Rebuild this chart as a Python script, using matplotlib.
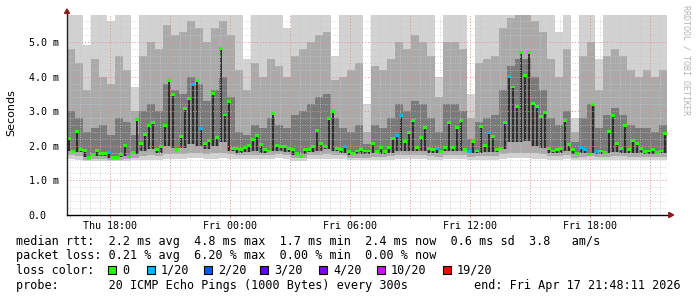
import numpy as np
import matplotlib
matplotlib.use("Agg")
import matplotlib.pyplot as plt
from matplotlib.patches import Rectangle, Polygon

# time axis in hours counted from Thu 00:00
t_start = 15.85
t_end = 45.85
med_step = 0.2      # one median column = 12 min
smoke_step = 0.4    # one smoke column = 24 min

# median rtt per column (ms)
median = [2.20, 1.83, 2.40, 1.90, 1.86, 1.66, 1.74, 1.86, 1.78, 1.78,
          1.80, 1.66, 1.66, 1.75, 2.02, 1.69, 1.80, 2.75, 2.07, 2.33,
          2.58, 2.68, 1.88, 1.98, 2.58, 3.88, 3.49, 1.88, 2.26, 3.07,
          3.36, 3.78, 3.88, 2.50, 2.07, 2.14, 3.52, 2.24, 4.81, 2.89,
          3.28, 1.93, 1.93, 1.88, 1.95, 2.02, 2.18, 2.31, 2.04, 1.88,
          1.85, 2.94, 2.02, 1.98, 1.98, 1.93, 1.88, 1.78, 1.69, 1.88,
          1.88, 1.98, 2.43, 2.07, 1.98, 2.78, 2.99, 1.91, 1.90, 1.98,
          1.83, 1.78, 1.85, 1.88, 1.85, 1.85, 2.07, 1.83, 1.95, 1.83,
          1.95, 2.20, 2.31, 2.87, 2.12, 2.39, 2.72, 1.95, 2.24, 2.54,
          1.93, 1.88, 1.93, 1.83, 1.95, 2.68, 1.95, 2.54, 2.72, 1.88,
          1.83, 2.12, 1.85, 2.56, 2.02, 2.39, 2.27, 1.88, 1.91, 2.68,
          4.00, 3.70, 3.13, 4.70, 4.02, 4.70, 3.23, 3.13, 2.85, 2.97,
          1.91, 1.85, 1.90, 1.93, 2.72, 2.04, 1.88, 1.78, 1.95, 1.88,
          1.74, 3.18, 1.83, 1.85, 1.81, 2.41, 2.87, 2.07, 1.93, 2.60,
          1.88, 2.14, 2.07, 1.93, 1.83, 1.85, 1.88, 1.81, 1.85, 2.36]

# columns that lost 1 of 20 pings (everything else 0)
loss_1_20 = [10, 31, 33, 69, 82, 83, 92, 100, 105, 110, 128, 129, 132]

# smoke: ping distribution per 24 min column (ms)
pmin = [1.62, 1.60, 1.55, 1.56, 1.56, 1.55, 1.55, 1.56, 1.58, 1.60,
        1.60, 1.60, 1.62, 1.62, 1.62, 1.65, 1.65, 1.62, 1.62, 1.65,
        1.62, 1.62, 1.62, 1.62, 1.62, 1.62, 1.64, 1.62, 1.56, 1.56,
        1.62, 1.62, 1.62, 1.62, 1.62, 1.58, 1.58, 1.58, 1.60, 1.60,
        1.60, 1.62, 1.62, 1.62, 1.62, 1.60, 1.60, 1.62, 1.62, 1.62,
        1.60, 1.60, 1.60, 1.60, 1.62, 1.65, 1.65, 1.65, 1.62, 1.62,
        1.60, 1.60, 1.62, 1.58, 1.60, 1.60, 1.60, 1.60, 1.60, 1.60,
        1.60, 1.60, 1.60, 1.60, 1.60]
p10 = [1.72, 1.70, 1.60, 1.62, 1.62, 1.60, 1.60, 1.62, 1.66, 1.70,
       1.72, 1.70, 1.75, 1.75, 1.75, 1.80, 1.80, 1.75, 1.78, 1.80,
       1.75, 1.72, 1.72, 1.74, 1.72, 1.74, 1.75, 1.72, 1.64, 1.65,
       1.72, 1.74, 1.75, 1.74, 1.72, 1.65, 1.66, 1.66, 1.68, 1.68,
       1.70, 1.72, 1.72, 1.72, 1.72, 1.70, 1.68, 1.72, 1.72, 1.72,
       1.68, 1.70, 1.70, 1.70, 1.75, 1.80, 1.80, 1.80, 1.78, 1.75,
       1.70, 1.70, 1.72, 1.66, 1.68, 1.70, 1.68, 1.68, 1.70, 1.70,
       1.68, 1.68, 1.68, 1.68, 1.68]
q1 = [1.85, 1.82, 1.68, 1.70, 1.70, 1.66, 1.68, 1.70, 1.75, 1.85,
      1.90, 1.80, 2.00, 1.95, 1.95, 2.05, 2.00, 1.90, 2.00, 2.10,
      1.85, 1.80, 1.82, 1.85, 1.80, 1.85, 1.85, 1.82, 1.72, 1.75,
      1.82, 1.85, 1.90, 1.85, 1.80, 1.72, 1.75, 1.75, 1.78, 1.76,
      1.80, 1.85, 1.85, 1.85, 1.85, 1.80, 1.78, 1.85, 1.85, 1.85,
      1.78, 1.80, 1.82, 1.82, 1.90, 2.10, 2.10, 2.15, 2.00, 1.95,
      1.80, 1.80, 1.85, 1.75, 1.78, 1.80, 1.76, 1.78, 1.82, 1.80,
      1.78, 1.78, 1.76, 1.76, 1.78]
q3 = [3.0, 2.8, 2.4, 2.5, 2.6, 2.3, 2.8, 2.7, 2.3, 3.0,
      3.2, 3.0, 3.8, 3.6, 3.5, 4.0, 3.8, 3.3, 3.6, 4.0,
      3.4, 2.4, 2.3, 2.6, 2.5, 2.8, 2.6, 2.5, 2.9, 3.0,
      3.2, 3.4, 3.5, 2.8, 2.5, 2.4, 2.6, 2.05, 2.6, 2.5,
      2.8, 3.2, 3.0, 3.3, 3.2, 2.8, 2.4, 3.2, 3.2, 3.0,
      2.2, 2.7, 2.8, 2.9, 3.6, 4.3, 4.5, 4.5, 4.0, 3.6,
      2.8, 2.6, 3.0, 2.1, 2.8, 3.2, 2.5, 2.9, 3.1, 2.9,
      2.6, 2.5, 2.5, 2.4, 2.6]
p90 = [4.8, 4.4, 3.6, 4.5, 4.0, 3.8, 4.6, 4.2, 3.0, 4.6,
       5.0, 4.8, 5.5, 5.2, 5.3, 5.6, 5.4, 5.0, 5.4, 5.6,
       5.2, 4.2, 3.6, 4.4, 4.0, 4.5, 4.3, 4.0, 4.6, 4.8,
       5.0, 5.2, 5.3, 3.9, 4.0, 4.2, 4.4, 2.4, 4.3, 4.2,
       4.5, 5.0, 4.8, 5.2, 5.0, 4.6, 3.4, 5.0, 5.0, 4.8,
       2.8, 4.4, 4.5, 4.6, 5.4, 5.7, 5.8, 5.8, 5.6, 5.3,
       4.5, 4.0, 4.8, 2.4, 4.6, 5.0, 3.6, 4.6, 4.8, 4.6,
       4.2, 4.0, 4.2, 4.0, 4.2]
pmax = [6.5, 6.5, 4.9, 6.5, 6.5, 5.6, 6.5, 6.5, 3.7, 6.0,
        6.5, 6.5, 6.5, 6.5, 6.5, 6.5, 6.5, 6.5, 6.5, 6.5,
        6.5, 6.5, 4.5, 6.5, 6.5, 6.5, 6.5, 5.4, 6.5, 6.5,
        6.5, 6.5, 6.5, 4.6, 6.5, 6.5, 6.5, 3.2, 6.5, 6.5,
        6.5, 6.5, 6.5, 6.5, 6.5, 6.5, 4.0, 6.5, 6.5, 6.5,
        3.5, 6.5, 6.5, 6.5, 6.5, 6.5, 6.5, 6.5, 6.5, 6.5,
        6.5, 5.3, 6.5, 2.8, 6.5, 6.5, 4.5, 6.5, 6.5, 6.5,
        6.5, 6.5, 6.5, 6.5, 6.5]

y_major = [0, 1, 2, 3, 4, 5]
x_label_hours = [18, 24, 30, 36, 42]
day_names = ["Thu", "Fri"]

loss_names = ["0", "1/20", "2/20", "3/20", "4/20", "10/20", "19/20"]
loss_colors = ["#26ff00", "#00b8ff", "#0059ff", "#5e00ff", "#7e00ff", "#dd00ff", "#ff0000"]

stats_rtt = "median rtt:  2.2 ms avg  4.8 ms max  1.7 ms min  2.4 ms now  0.6 ms sd  3.8   am/s"
stats_loss = "packet loss: 0.21 % avg  6.20 % max  0.00 % min  0.00 % now"
probe_text = "probe:       20 ICMP Echo Pings (1000 Bytes) every 300s"
end_text = "end: Fri Apr 17 21:48:11 2026"

W, H = 697, 297
MONO = "DejaVu Sans Mono"

fig = plt.figure(figsize=(W / 100, H / 100), dpi=100)
fig.patch.set_facecolor("white")
ax = fig.add_axes([67 / W, (H - 215) / H, 600 / W, 200 / H])
ax.set_facecolor("white")

# smoke
ts = t_start + smoke_step * np.arange(len(pmax))
for lo, hi, col in [(pmin, pmax, "#d2d2d2"), (p10, p90, "#aaaaaa"), (q1, q3, "#7a7a7a")]:
    lo = np.array(lo)
    hi = np.array(hi)
    ax.bar(ts, hi - lo, bottom=lo, width=smoke_step, align="edge", color=col,
           linewidth=0, antialiased=False, zorder=1)

tm = t_start + med_step * np.arange(len(median))
med = np.array(median)
q1_m = np.repeat(q1, 2)[:len(med)]
# thin dark core between lower quartile and median
ax.bar(tm + med_step * 0.25, np.clip(med - q1_m, 0, None), bottom=q1_m, width=med_step * 0.5,
       align="edge", color="#2e2e2e", linewidth=0, antialiased=False, zorder=1.5)

# grid (drawn over the smoke, like rrdtool)
dots = (0, (1, 2))
for k in range(1, 30):
    v = k * 0.2
    if k % 5 == 0:
        ax.axhline(v, color="#f08a8a", lw=0.7, ls=dots, zorder=3)
    else:
        ax.axhline(v, color="#c8c8c8", lw=0.6, ls=dots, zorder=3)
for k in range(int(t_start * 2) + 1, int(t_end * 2) + 1):
    h = k / 2
    if k % 6 == 0:
        ax.axvline(h, color="#f08a8a", lw=0.7, ls=dots, zorder=3)
    else:
        ax.axvline(h, color="#c8c8c8", lw=0.6, ls=dots, zorder=3)

# median dots coloured by loss
dot_cols = [loss_colors[1] if i in loss_1_20 else loss_colors[0] for i in range(len(med))]
ax.bar(tm, 0.085, bottom=med - 0.0425, width=med_step, align="edge", color=dot_cols,
       linewidth=0, antialiased=False, zorder=4)

ax.set_xlim(t_start, t_end)
ax.set_ylim(0, 5.78)

for s in ["top", "right", "left", "bottom"]:
    ax.spines[s].set_visible(False)
ax.plot([0, 0], [0, 1.01], transform=ax.transAxes, color="#202020", lw=1, clip_on=False, zorder=5)
ax.plot([0, 1.004], [0, 0], transform=ax.transAxes, color="#000000", lw=1, clip_on=False, zorder=5)
ax.add_patch(Polygon([[-0.0042, 1.008], [0.0042, 1.008], [0, 1.03]], closed=True,
                     transform=ax.transAxes, color="#8b1a1a", clip_on=False, zorder=6))
ax.add_patch(Polygon([[1.003, -0.013], [1.003, 0.013], [1.011, 0]], closed=True,
                     transform=ax.transAxes, color="#8b1a1a", clip_on=False, zorder=6))

ax.set_yticks(y_major)
ax.set_yticklabels(["0.0"] + [f"{v:.1f} m" for v in y_major[1:]], fontfamily=MONO, fontsize=7.2)
for lab in ax.get_yticklabels():
    lab.set_horizontalalignment("left")
ax.tick_params(axis="y", length=0, pad=27.5)

ax.set_xticks(x_label_hours)
ax.set_xticklabels([f"{day_names[h // 24]} {h % 24:02d}:00" for h in x_label_hours],
                   fontfamily=MONO, fontsize=7.2)
ax.set_xticks(np.arange(16, 46, 1.0), minor=True)
ax.tick_params(axis="x", which="major", length=2, color="#f08a8a", pad=2.5)
ax.tick_params(axis="x", which="minor", length=2, color="#c8c8c8")

fig.text(11 / W, 1 - 113 / H, "Seconds", rotation=90, ha="center", va="center",
         fontsize=8, fontfamily="DejaVu Sans")
fig.text(686 / W, 1 - 60 / H, "RRDTOOL / TOBI OETIKER", rotation=270, ha="center", va="center",
         fontsize=6, fontfamily=MONO, color="#b4b4b4")

# legend
fs = 8.5
fig.text(16 / W, 1 - 241 / H, stats_rtt, fontfamily=MONO, fontsize=fs, va="center")
fig.text(16 / W, 1 - 256 / H, stats_loss, fontfamily=MONO, fontsize=fs, va="center")
fig.text(16 / W, 1 - 270 / H, "loss color:", fontfamily=MONO, fontsize=fs, va="center")
box_x = [108, 147, 204, 260, 319, 377, 443]
for bx, name, col in zip(box_x, loss_names, loss_colors):
    fig.patches.append(Rectangle((bx / W, 1 - 274 / H), 8 / W, 8 / H, transform=fig.transFigure,
                                 facecolor=col, edgecolor="black", lw=0.8))
    fig.text((bx + 14) / W, 1 - 270 / H, name, fontfamily=MONO, fontsize=fs, va="center")
fig.text(16 / W, 1 - 285 / H, probe_text, fontfamily=MONO, fontsize=fs, va="center")
fig.text(681 / W, 1 - 285 / H, end_text, fontfamily=MONO, fontsize=fs, va="center", ha="right")

fig.savefig("out.png", dpi=100)
